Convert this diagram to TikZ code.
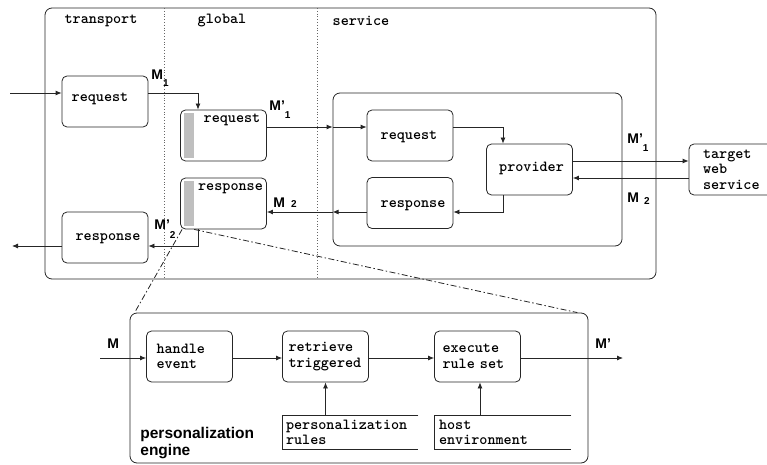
\documentclass[tikz,border=0pt]{standalone}
\usepackage{fontspec}
\setmainfont{Liberation Sans}
\usetikzlibrary{calc,arrows.meta}
\tikzset{>={Latex[length=6pt,width=5pt]}}
\newcommand{\lowsub}[2]{\raisebox{-#1}{\fontsize{10}{10}\selectfont #2}}

\begin{document}
\begin{tikzpicture}[x=1pt,y=-1pt,line width=0.8pt,color=black!85,
    every node/.append style={text=black},
    blk/.style={draw,rounded corners=5pt,minimum width=86pt,minimum height=51pt,inner sep=0pt},
    tt/.style={font=\ttfamily\bfseries\fontsize{15.4}{15.5}\selectfont,inner sep=0pt},
    ebox/.style={blk,tt,align=left,text width=74pt,inner xsep=6pt},
    store/.style={tt,align=left,text width=129pt,inner xsep=3pt,minimum height=33pt},
    mlab/.style={font=\bfseries\fontsize{14}{14}\selectfont,anchor=base west,inner sep=0pt},
    bar/.style={fill=black!25,draw=none},
    zoomline/.style={dash pattern=on 6pt off 2.5pt on 1.5pt off 2.5pt}]
        \useasboundingbox (0,0) rectangle (767,465);
        % container and layers
        \node[draw,rounded corners=7pt,minimum width=611pt,minimum height=271pt,inner sep=0pt] (outer) at (350.5,143.5) {};
        \draw[dotted,black!60] (164,8) -- (164,279);
        \draw[dotted,black!60] (317,8) -- (317,279);
        \node[tt] (coltr) at (101,21) {transport};
        \node[tt] (colgl) at (222,21) {global};
        \node[tt] (colsv) at (361,21) {service};
        % transport
        \node[blk] (treq) at (105,101.5) {};
        \node[tt] (treqt) at (100,99) {request};
        \node[blk] (tresp) at (105,237.5) {};
        \node[tt] (trespt) at (108,239) {response};
        % global
        \node[blk] (greq) at (223.5,135.5) {};
        \fill[bar] ([xshift=3.5pt,yshift=-3pt]greq.north west) rectangle ([xshift=14pt,yshift=3pt]greq.south west);
        \node[tt] (greqt) at (232,120) {request};
        \node[blk] (gresp) at (223.5,203.5) {};
        \fill[bar] ([xshift=3.5pt,yshift=-3pt]gresp.north west) rectangle ([xshift=14pt,yshift=3pt]gresp.south west);
        \node[tt] (grespt) at (230.5,189) {response};
        % service
        \node[draw,rounded corners=7pt,minimum width=289pt,minimum height=153pt,inner sep=0pt] (svc) at (477.5,169.5) {};
        \node[blk] (sreq) at (410,135.5) {};
        \node[tt] (sreqt) at (409,137) {request};
        \node[blk] (prov) at (529.5,169.5) {};
        \node[tt] (provt) at (531.5,168) {provider};
        \node[blk] (sresp) at (410,203) {};
        \node[tt] (srespt) at (413,206) {response};
        \node[blk,tt,align=left,text width=72pt,inner xsep=14pt] (tgt) at (739,169.5) {target\\web\\service};
        % request path
        \coordinate (inL) at (10,93);
        \draw[->] (inL) -- (inL -| treq.west);
        \draw[->] (inL -| treq.east) -| ([xshift=-25.5pt]greq.north);
        \node[mlab] (m1) at (151,80) {M\lowsub{7pt}{1}};
        \coordinate (reqL) at (0,127);
        \draw[->] (reqL -| greq.east) -- (reqL -| svc.west);
        \draw[->] (reqL -| svc.west) -- (reqL -| sreq.west);
        \node[mlab] (m1g) at (269,111) {M'\lowsub{8pt}{1}};
        \draw[->] (reqL -| sreq.east) -| ([xshift=-26.5pt]prov.north);
        \coordinate (outR) at (0,161);
        \coordinate (backR) at (0,178);
        \draw[->] (outR -| prov.east) -- (outR -| tgt.west);
        \draw[->] (backR -| tgt.west) -- (backR -| prov.east);
        \node[mlab] (m1r) at (627,143) {M'\lowsub{9pt}{1}};
        \node[mlab] (m2r) at (627,202) {M\kern5pt\lowsub{2pt}{2}};
        % response path
        \coordinate (respL) at (0,212);
        \draw[->] ([xshift=-26.5pt]prov.south) |- (respL -| sresp.east);
        \draw[->] (respL -| sresp.west) -- (respL -| svc.west);
        \draw[->] (respL -| svc.west) -- (respL -| gresp.east);
        \node[mlab] (m2g) at (273,207) {M\kern6pt\lowsub{0pt}{2}};
        \coordinate (outL) at (12,246);
        \draw[->] ([xshift=-25.5pt]gresp.south) |- (outL -| tresp.east);
        \draw[->] (outL -| tresp.west) -- (outL);
        \node[mlab] (m2t) at (154,229) {M'\lowsub{9pt}{2}};
        % personalization engine
        \node[draw,rounded corners=7pt,minimum width=458pt,minimum height=150pt,inner sep=0pt] (eng) at (359,388) {};
        \draw[zoomline] ([xshift=2pt]gresp.south west) -- ([xshift=5pt]eng.north west);
        \draw[zoomline] ([xshift=14pt]gresp.south west) -- ([xshift=-11pt]eng.north east);
        \node[ebox,text width=66pt,inner xsep=10pt] (hev) at (189.5,356.5) {handle\\event};
        \node[ebox] (ret) at (325.5,356.5) {retrieve\\triggered};
        \node[ebox,text width=70pt,inner xsep=8pt] (exe) at (477.5,356.5) {execute\\rule set};
        \coordinate (mIn) at (100,358);
        \coordinate (mOut) at (623,358);
        \draw[->] (mIn) -- (mIn -| hev.west);
        \draw[->] (mIn -| hev.east) -- (mIn -| ret.west);
        \draw[->] (mIn -| ret.east) -- (mIn -| exe.west);
        \draw[->] (mIn -| exe.east) -- (mOut);
        \node[mlab] (mi) at (107,348) {M};
        \node[mlab] (mo) at (595,348) {M'};
        \node[store] (prul) at (350.5,432.5) {personalization\\rules};
        \draw (prul.north east) -- (prul.north west) -- (prul.south west) -- (prul.south east);
        \node[store,text width=128pt,inner xsep=4pt] (host) at (503,432.5) {host\\environment};
        \draw (host.north east) -- (host.north west) -- (host.south west) -- (host.south east);
        \draw[->] (prul.north -| ret.south) -- (ret.south);
        \draw[->] ([xshift=2.5pt]host.north -| exe.south) -- ([xshift=2.5pt]exe.south);
        \node[font=\bfseries\fontsize{15.5}{17}\selectfont,align=left,anchor=north west,inner sep=0pt] (englab) at (140,427) {personalization\\engine};
\end{tikzpicture}
\end{document}
